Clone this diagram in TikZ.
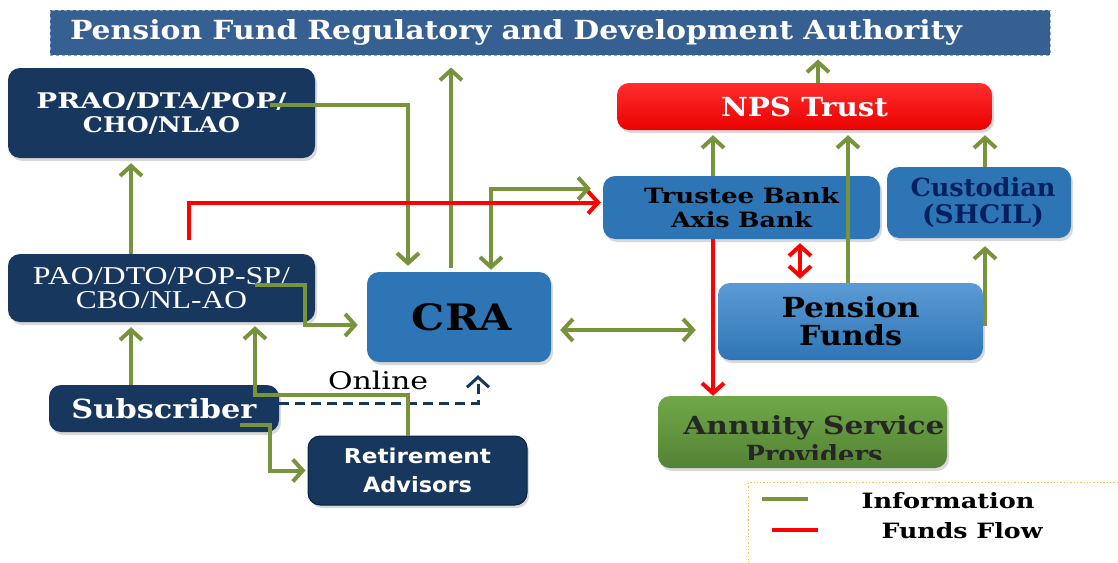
\documentclass[tikz,border=0pt]{standalone}
\usepackage{fontspec}
\setmainfont{DejaVu Serif}
\newfontfamily\tmsfont{Liberation Serif}
\newfontfamily\dvsans{DejaVu Sans}
\usetikzlibrary{arrows.meta,shadows,calc}
% set a text line to a given width and height (in pt)
\newcommand\fitwh[3]{\resizebox{#1pt}{#2pt}{#3}}
\newcommand\lsk[1]{\fontsize{10}{#1}\selectfont}

\definecolor{navy}{RGB}{23,55,94}
\definecolor{banner}{RGB}{55,96,146}
\definecolor{midblue}{RGB}{46,117,182}
\definecolor{lightblue}{RGB}{91,155,213}
\definecolor{infogreen}{RGB}{119,147,60}
\definecolor{custtext}{RGB}{0,32,96}
\definecolor{aspgreen}{RGB}{84,130,53}
\definecolor{asplight}{RGB}{112,168,72}
\definecolor{legendorange}{RGB}{247,190,80}
\definecolor{redtop}{RGB}{255,45,45}
\definecolor{redbot}{RGB}{235,0,0}

\begin{document}
\begin{tikzpicture}[x=1pt,y=-1pt,
  >={Straight Barb[length=10pt,width=22pt]},
  box/.style={rounded corners=12pt, align=center, inner sep=0pt,
    drop shadow={shadow xshift=2pt, shadow yshift=-3pt, opacity=0.3}},
  navybox/.style={box, fill=navy, text=white},
  bluebox/.style={box, fill=midblue},
  info/.style={draw=infogreen, line width=4pt},
  fund/.style={draw=red, line width=4pt},
  online/.style={draw=navy, line width=3pt, dash pattern=on 10pt off 6pt}]

\useasboundingbox (0,0) rectangle (1118,562);
\clip (0,0) rectangle (1118,562);

% regulator banner
\node[fill=banner, draw=banner!55!white, dashed, line width=1pt,
      text width=980pt, inner xsep=10pt, inner ysep=0pt, minimum height=45pt,
      align=left, text=white, font=\bfseries] (pfrda) at (550,32.5)
  {\hspace*{10pt}\fitwh{892}{20}{Pension Fund Regulatory and Development Authority}};

% left column
\node[navybox, minimum width=307pt, minimum height=90pt, text width=307pt, font=\bfseries\lsk{24}] (prao) at (161.5,113)
  {\fitwh{250}{16}{PRAO/DTA/POP/}\\\fitwh{157}{16}{CHO/NLAO}};
\node[navybox, minimum width=307pt, minimum height=68pt, text width=307pt, font=\tmsfont\lsk{24}] (pao) at (161.5,288)
  {\fitwh{257}{17}{PAO/DTO/POP-SP/}\\\fitwh{171}{17}{CBO/NL-AO}};
\node[navybox, minimum width=230pt, minimum height=47pt, font=\bfseries] (sub) at (164,408.5)
  {\fitwh{185}{20}{Subscriber}};
\node[navybox, draw=navy!60!black, line width=1pt, minimum width=219pt, minimum height=69pt, text width=219pt,
      font=\dvsans\bfseries\lsk{29}] (ret) at (417.5,470.5)
  {\fitwh{147}{15.5}{Retirement}\\\fitwh{109}{16}{Advisors}};

% record keeping agency
\node[bluebox, minimum width=184pt, minimum height=90pt, font=\bfseries] (cra) at (459,317)
  {\hspace*{6pt}\fitwh{100}{27}{CRA}};
\node[font=\rmfamily] (onlinelbl) at (378,380) {\fitwh{100}{18.5}{Online}};

% trust side
\node[box, top color=redtop, bottom color=redbot, minimum width=375pt, minimum height=47pt,
      text=white, font=\bfseries] (nps) at (804.5,106.5)
  {\fitwh{167}{19.5}{NPS Trust}};
\node[bluebox, minimum width=277pt, minimum height=63pt, text width=277pt, font=\bfseries\lsk{24}] (trustee) at (741.5,207.5)
  {\fitwh{195}{16}{Trustee Bank}\\\fitwh{141}{16}{Axis Bank}};
\node[bluebox, minimum width=184pt, minimum height=71pt, text width=184pt, text=custtext, font=\bfseries\lsk{27}] (cust) at (979,202.5)
  {\hspace*{8pt}\fitwh{145}{19}{Custodian}\\\hspace*{8pt}\fitwh{122}{19.5}{(SHCIL)}};
\node[box, top color=lightblue, bottom color=midblue, minimum width=265pt, minimum height=77pt, text width=265pt,
      font=\bfseries\lsk{28}] (pf) at (850.5,321.5)
  {\fitwh{138}{21}{Pension}\\\fitwh{103}{21}{Funds}};
\node[box, top color=asplight, bottom color=aspgreen, minimum width=289pt, minimum height=72pt] (asp) at (802.5,432) {};
\begin{scope}
  \clip (asp.north west) rectangle ([yshift=9pt]asp.south east);
  \node[font=\bfseries\lsk{29}, text=black!85, text width=300pt, align=center] (asptext) at (814,440)
    {\fitwh{261}{19}{Annuity Service}\\\fitwh{137}{19}{Providers}};
\end{scope}

% legend
\node[draw=legendorange, dotted, line width=1.3pt, minimum width=420pt, minimum height=110pt,
      anchor=north west] (legend) at (748,482) {};
\coordinate (lginfo) at (762,499);
\coordinate (lgfund) at (772,530);
\draw[info] (lginfo) -- ++(46,0);
\draw[fund] (lgfund) -- ++(46,0);
\node[anchor=west, font=\bfseries] (infolbl) at (858,501) {\fitwh{173}{16}{Information}};
\node[anchor=west, font=\bfseries] (fundlbl) at (878,531) {\fitwh{161}{16}{Funds Flow}};

% online channel
\coordinate (onl) at ([xshift=19pt]cra.south);
\draw[online,->,shorten >=13pt] ([yshift=5pt]sub.east) -| (onl);

% information flows
\coordinate (praoout) at (270,105);
\draw[info,->,shorten >=6pt] (praoout) -| ([xshift=-51pt]cra.north);
\coordinate (craup) at ([xshift=-8pt,yshift=4pt]cra.north);
\draw[info,->,shorten >=12pt] (craup) -- (craup |- pfrda.south);
\draw[info,<->,shorten <=12pt,shorten >=2pt] ([yshift=19pt]trustee.west) -| ([xshift=32pt]cra.north);
\coordinate (praoin) at ([xshift=-30.5pt]pao.north);
\draw[info,->,shorten >=5pt] (praoin) -- (praoin |- prao.south);
\coordinate (subup) at ([xshift=-33pt]sub.north);
\draw[info,->,shorten >=5pt] (subup) -- (subup |- pao.south);
\coordinate (paoout) at (255,285);
\draw[info,->,shorten >=9pt] (paoout) -- ++(50,0) |- ([yshift=-8pt]cra.west);
\coordinate (retup) at ([xshift=-9.5pt]ret.north);
\coordinate (paoin) at ([xshift=93.5pt]pao.south);
\draw[info,->,shorten >=4pt] (retup) -- ++(0,-41) -| (paoin);
\coordinate (subout) at (240,425);
\draw[info,->,shorten >=2pt] (subout) -- ++(30,0) |- (ret.west);
\coordinate (craright) at ([yshift=-13pt]cra.east);
\draw[info,<->,shorten <=9pt,shorten >=22pt] (craright) -- (craright -| pf.west);
\coordinate (tbup) at ([xshift=-28.5pt]trustee.north);
\draw[info,->,shorten >=5pt] (tbup) -- (tbup |- nps.south);
\coordinate (pfup) at ([xshift=-2.5pt]pf.north);
\draw[info,->,shorten >=5pt] (pfup) -- (pfup |- nps.south);
\coordinate (cuup) at ([xshift=6pt]cust.north);
\draw[info,->,shorten >=5pt] (cuup) -- (cuup |- nps.south);
\coordinate (cuin) at ([xshift=6pt]cust.south);
\draw[info,->,shorten >=8pt] ([yshift=-4pt]cuin |- pf.east) -- (cuin);
\coordinate (npsup) at ([xshift=13.5pt]nps.north);
\draw[info,->,shorten >=4pt] (npsup) -- (npsup |- pfrda.south);

% funds flows
\coordinate (redstart) at (189,240);
\draw[fund,->,shorten >=2pt] (redstart) |- ([yshift=5pt]trustee.west);
\coordinate (tbdown) at ([xshift=-28.5pt]trustee.south);
\draw[fund,->] (tbdown) -- (tbdown |- asp.north);
\coordinate (tbpf) at ([xshift=58.5pt]trustee.south);
\draw[fund,<->,shorten <=4pt,shorten >=4pt] (tbpf) -- (tbpf |- pf.north);
\end{tikzpicture}
\end{document}
